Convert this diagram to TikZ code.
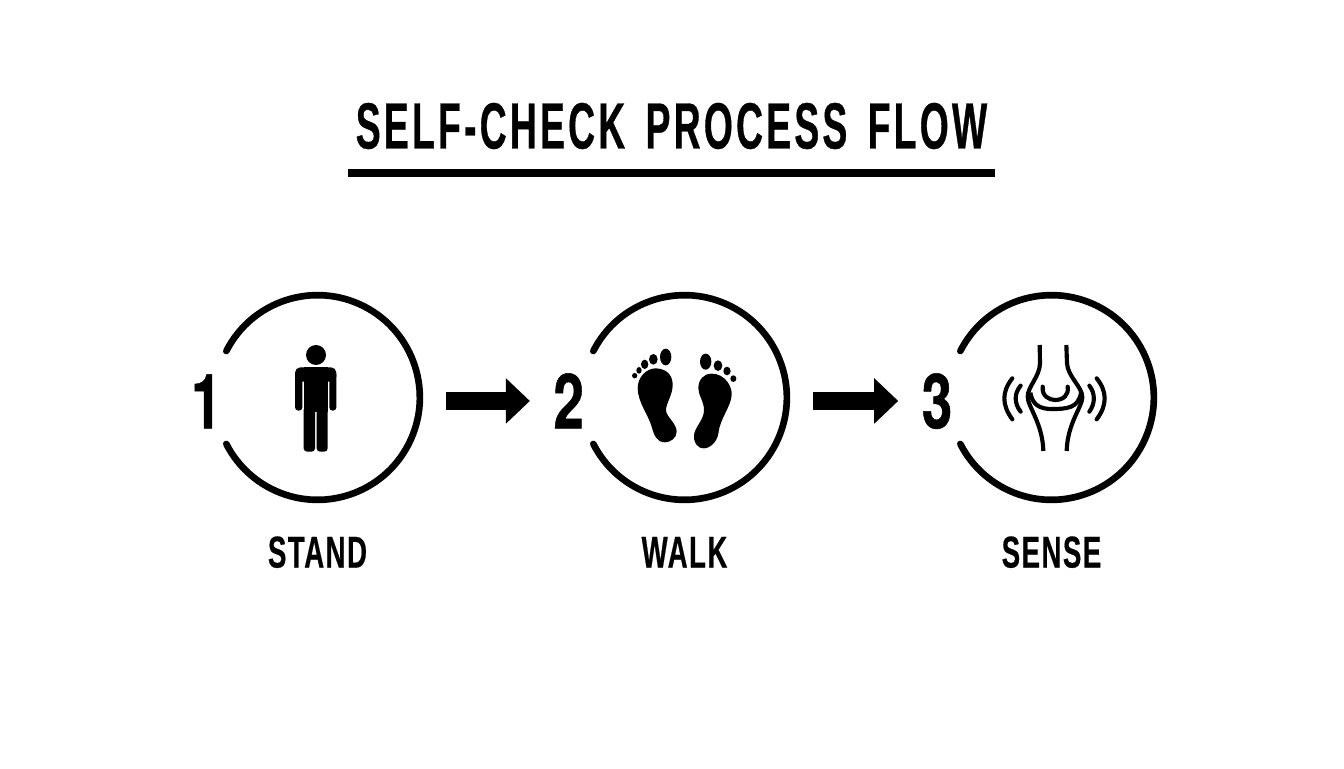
\documentclass[tikz,border=0pt]{standalone}
\usepackage{fontspec}
\setmainfont{Liberation Sans}
\newfontfamily\headfont[FakeStretch=0.57,LetterSpace=5,FakeBold=0.5,WordSpace=1.5]{Liberation Sans Bold}
\newfontfamily\stepfont[FakeStretch=0.62,LetterSpace=3.2,FakeBold=0.4]{Liberation Sans Bold}
\newfontfamily\numfont[FakeStretch=0.72,FakeBold=0.6]{TeX Gyre Heros Bold}
\usetikzlibrary{arrows.meta,positioning}

\begin{document}
\begin{tikzpicture}[x=.75pt,y=.75pt]
    \tikzset{ring/.style={
      circle,
      inner sep=0pt,
      outer sep=0pt,
      minimum size=153.5pt
    }};
    \tikzset{ringline/.style={line width=5pt,line cap=round}};
    \tikzset{steplabel/.style={
      inner sep=0pt,
      text height=24pt,
      text depth=0pt,
      font=\stepfont\fontsize{33.5}{33.5}\selectfont
    }};
    \tikzset{stepnum/.style={
      inner sep=0pt,
      text height=41pt,
      text depth=0pt,
      yshift=-2.6pt,
      font=\numfont\fontsize{57}{57}\selectfont
    }};
    \tikzset{flowarrow/.style={
      draw,
      line width=13.5pt,
      -{Triangle[length=18pt,width=33pt]},
      shorten <=19.8pt,
      shorten >=17.5pt
    }};
    \tikzset{iconline/.style={line width=3.1pt}};
    \useasboundingbox (0,0) rectangle (1344,768);

    \node [inner sep=0pt,font=\headfont\fontsize{49}{49}\selectfont] (title) at (671.5,642) {SELF-CHECK PROCESS FLOW};
    \node [fill=black,inner sep=0pt,minimum width=485pt,minimum height=6.5pt] (titlerule) at (671.5,595) {};

    \node [ring] (stand) at (317.5,370.5) {};
    \node [ring, right=121.75pt of stand] (walk) {};
    \node [ring, right=121.75pt of walk] (sense) {};

    \node [stepnum, left=-5pt of stand] (num1) {1};
    \node [stepnum, left=-1.5pt of walk] (num2) {2};
    \node [stepnum, left=-2.5pt of sense] (num3) {3};

    \node [steplabel, below=26.6pt of stand] (standlabel) {STAND};
    \node [steplabel, below=26.6pt of walk] (walklabel) {WALK};
    \node [steplabel, below=26.6pt of sense] (senselabel) {SENSE};

    \foreach \nm in {stand,walk,sense}
      \draw[ringline] (\nm.153) arc[start angle=153,end angle=-153,radius=76.75pt];

    \path[flowarrow] (stand.east |- num2) -- (num2.west);
    \path[flowarrow] (walk.east |- num3) -- (num3.west);

    % person
    \begin{scope}[shift={(180,488)},x=.25pt,y=-.25pt]
      \fill (408,225) circle[radius=30];
      \fill[rounded corners=4pt] (345,262) rectangle (469,305);
      \fill[rounded corners=2.5pt] (345,275) rectangle (367,392);
      \fill[rounded corners=2.5pt] (448,275) rectangle (469,392);
      \fill (371,262) rectangle (443,395);
      \fill[rounded corners=2.5pt] (371,380) rectangle (405,515);
      \fill[rounded corners=2.5pt] (410,380) rectangle (443,515);
    \end{scope}

    % feet
    \begin{scope}[shift={(630,423)},x=.25pt,y=-.25pt]
      \fill (78,70) .. controls (115,72) and (128,95) .. (128,120) .. controls (128,150) and (108,175) .. (108,195) .. controls (108,215) and (140,235) .. (140,260) .. controls (140,280) and (120,292) .. (105,292) .. controls (80,292) and (72,270) .. (65,245) .. controls (55,210) and (23,170) .. (23,130) .. controls (23,95) and (50,70) .. (78,70) -- cycle;
      \fill (245,86) .. controls (285,86) and (307,125) .. (305,150) .. controls (303,185) and (270,220) .. (265,265) .. controls (262,290) and (240,310) .. (222,310) .. controls (200,310) and (190,290) .. (192,270) .. controls (195,245) and (222,225) .. (222,195) .. controls (222,170) and (205,150) .. (205,130) .. controls (205,105) and (220,86) .. (245,86) -- cycle;
      \foreach \tx/\ty/\rx/\ry in {107/36/17/25,70/43/13/16,44/58/11/14,27/76/8/10,14/92/8/8,227/50/17/24,264/62/13/16,291/78/11/13,310/101/9/10}
        \fill (\tx,\ty) ellipse[x radius=\rx,y radius=\ry];
    \end{scope}

    % knee
    \begin{scope}[shift={(995,428)},x=.25pt,y=-.25pt]
      \draw[iconline] (134,15) -- (135,70) .. controls (134,110) and (98,140) .. (98,170) .. controls (98,200) and (143,250) .. (145,333);
      \draw[iconline] (214,15) -- (216,70) .. controls (218,110) and (262,140) .. (262,172) .. controls (262,200) and (217,250) .. (215,333);
      \draw[iconline] (106,158) .. controls (112,195) and (135,207) .. (170,207) .. controls (215,207) and (250,205) .. (258,158);
      \draw[iconline,line cap=round] (143,140) .. controls (140,170) and (165,180) .. (180,180) .. controls (205,180) and (222,165) .. (218,140);
      \draw[iconline,line cap=round] (52,115) .. controls (20,155) and (20,195) .. (52,238);
      \draw[iconline,line cap=round] (77,137) .. controls (57,160) and (57,190) .. (77,215);
      \draw[iconline,line cap=round] (305,115) .. controls (337,155) and (337,195) .. (305,238);
      \draw[iconline,line cap=round] (283,137) .. controls (301,160) and (301,190) .. (283,215);
    \end{scope}

  \end{tikzpicture}
\end{document}
